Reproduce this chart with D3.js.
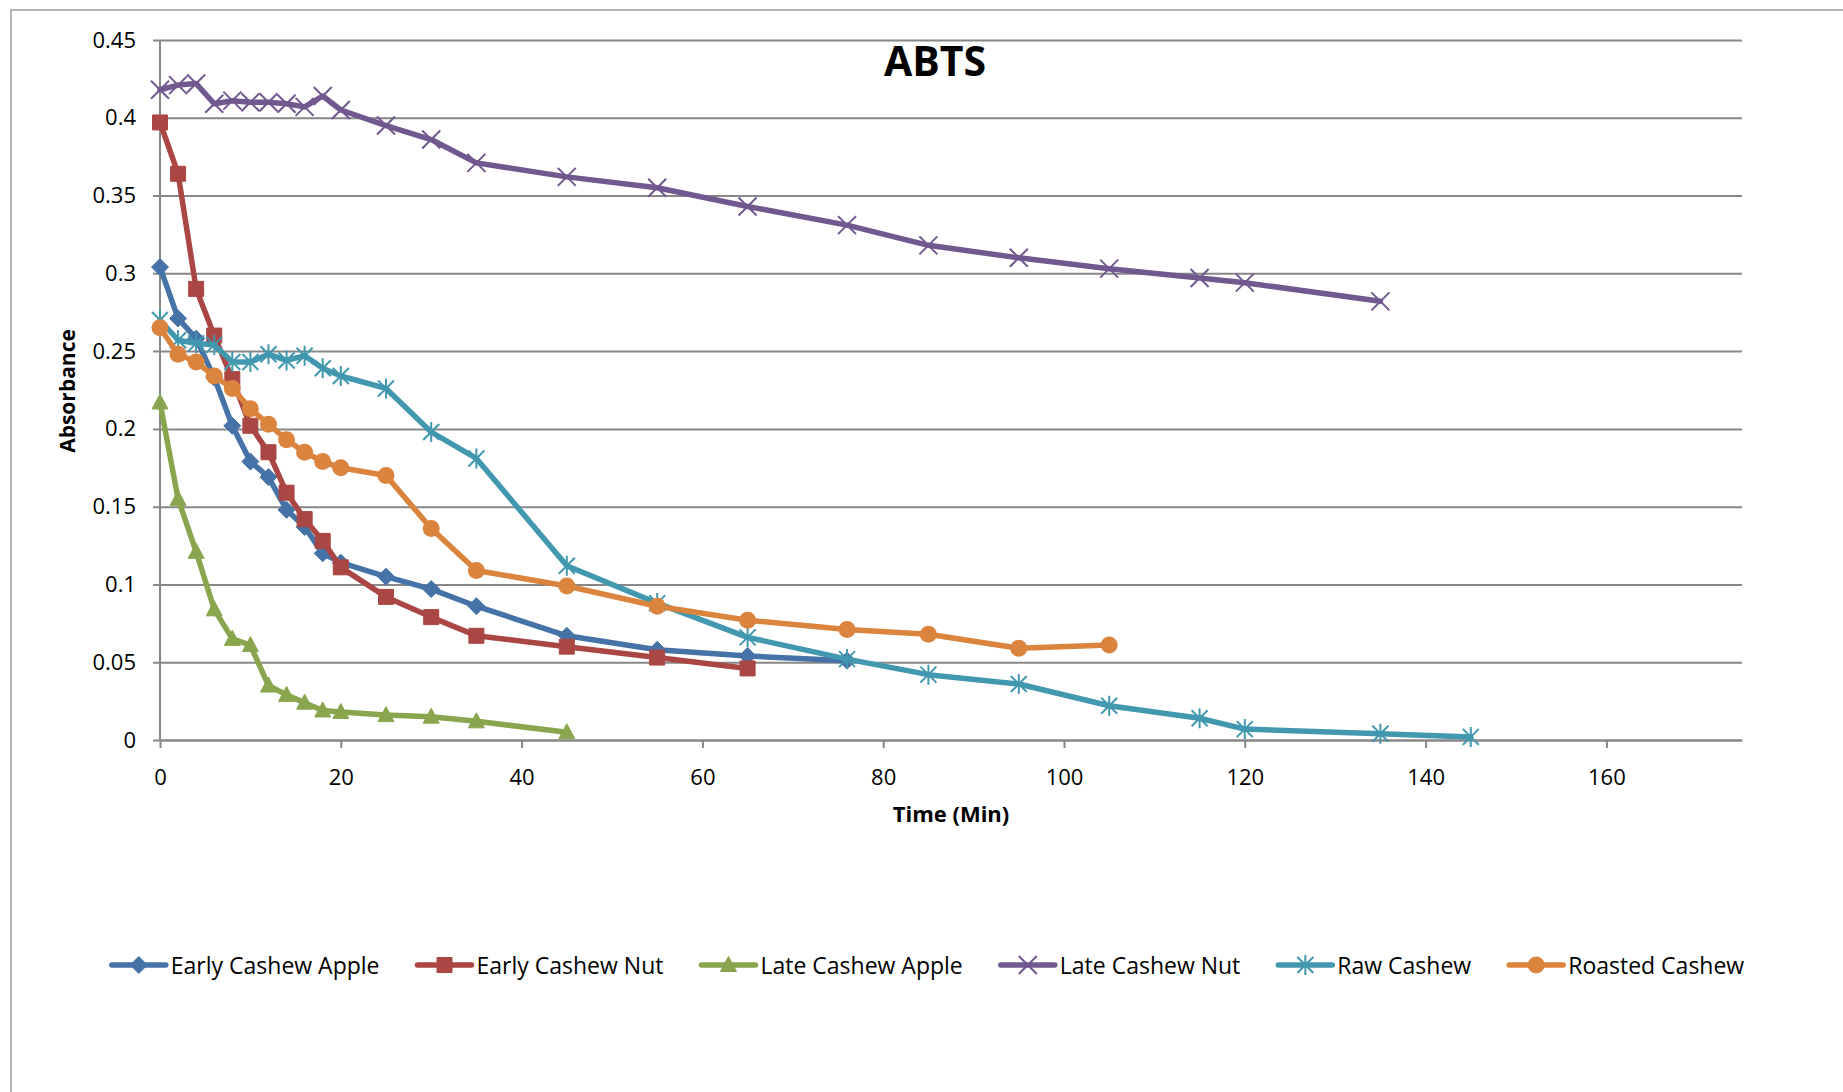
<!DOCTYPE html>
<html>
<head>
<meta charset="utf-8">
<script src="https://cdn.jsdelivr.net/npm/d3@7"></script>
<style>
  html, body { margin: 0; padding: 0; background: #ffffff; }
  svg { display: block; font-family: "Open Sans", sans-serif; }
</style>
</head>
<body>
<svg id="chart" width="1843" height="1092"></svg>
<script>
// ---------------- data ----------------
const times = [0, 2, 4, 6, 8, 10, 12, 14, 16, 18, 20, 25, 30, 35, 45, 55, 65, 76, 85, 95, 105, 115, 120, 135, 145];

const seriesNames = ["Early Cashew Apple", "Early Cashew Nut", "Late Cashew Apple", "Late Cashew Nut", "Raw Cashew", "Roasted Cashew"];

const earlyCashewApple = [0.304, 0.271, 0.258, 0.233, 0.202, 0.179, 0.169, 0.148, 0.137, 0.120, 0.114, 0.105, 0.097, 0.086, 0.067, 0.058, 0.054, 0.051];
const earlyCashewNut   = [0.397, 0.364, 0.290, 0.260, 0.232, 0.202, 0.185, 0.159, 0.142, 0.128, 0.111, 0.092, 0.079, 0.067, 0.060, 0.053, 0.046];
const lateCashewApple  = [0.217, 0.155, 0.121, 0.084, 0.065, 0.061, 0.035, 0.029, 0.024, 0.019, 0.018, 0.016, 0.015, 0.012, 0.005];
const lateCashewNut    = [0.418, 0.421, 0.422, 0.409, 0.411, 0.410, 0.410, 0.409, 0.407, 0.414, 0.405, 0.395, 0.386, 0.371, 0.362, 0.355, 0.343, 0.331, 0.318, 0.310, 0.303, 0.297, 0.294, 0.282];
const rawCashew        = [0.270, 0.257, 0.255, 0.254, 0.243, 0.243, 0.248, 0.244, 0.247, 0.239, 0.234, 0.226, 0.198, 0.181, 0.112, 0.088, 0.066, 0.052, 0.042, 0.036, 0.022, 0.014, 0.007, 0.004, 0.002];
const roastedCashew    = [0.265, 0.248, 0.243, 0.234, 0.226, 0.213, 0.203, 0.193, 0.185, 0.179, 0.175, 0.170, 0.136, 0.109, 0.099, 0.086, 0.077, 0.071, 0.068, 0.059, 0.061];

const xTickValues = [0, 20, 40, 60, 80, 100, 120, 140, 160];
const yTickValues = [0, 0.05, 0.1, 0.15, 0.2, 0.25, 0.3, 0.35, 0.4, 0.45];
const yTickLabels = ["0", "0.05", "0.1", "0.15", "0.2", "0.25", "0.3", "0.35", "0.4", "0.45"];

const chartTitle = "ABTS";
const xTitle = "Time (Min)";
const yTitle = "Absorbance";

// ---------------- styling ----------------
const colors = ["#4572A7", "#AA4643", "#89A54E", "#71588F", "#4198AF", "#DB843D"];
const markerTypes = ["diamond", "square", "triangle", "x", "asterisk", "circle"];
const gridColor = "#878787";

const seriesValues = [earlyCashewApple, earlyCashewNut, lateCashewApple, lateCashewNut, rawCashew, roastedCashew];
const series = seriesNames.map((name, i) => ({
  name, color: colors[i], marker: markerTypes[i],
  points: seriesValues[i].map((v, j) => ({ t: times[j], v }))
}));

// ---------------- layout ----------------
const svg = d3.select("#chart");
const plot = { left: 160, right: 1742, top: 40, bottom: 740 };

const x = d3.scaleLinear().domain([0, 175]).range([plot.left, plot.right]);
const y = d3.scaleLinear().domain([0, 0.45]).range([plot.bottom, plot.top]);

// chart frame (extends beyond the visible page on right/bottom)
svg.append("rect")
  .attr("x", 11).attr("y", 10)
  .attr("width", 1900).attr("height", 1200)
  .attr("fill", "none").attr("stroke", "#8c8c8c").attr("stroke-width", 1.3);

// horizontal gridlines + y axis
const yAxis = d3.axisLeft(y).tickValues(yTickValues)
  .tickFormat((d, i) => yTickLabels[i])
  .tickSize(-(plot.right - plot.left)).tickSizeOuter(0).tickPadding(17);
const yg = svg.append("g").attr("transform", `translate(${plot.left},0)`).call(yAxis);
yg.select(".domain").remove();
yg.selectAll(".tick line").attr("stroke", gridColor).attr("stroke-width", 2).attr("x1", -7);
yg.selectAll(".tick text").attr("font-size", 22).attr("fill", "#000").attr("x", -24)
  .attr("font-family", "Open Sans");

// y axis line
svg.append("line").attr("x1", plot.left).attr("x2", plot.left)
  .attr("y1", plot.top).attr("y2", plot.bottom)
  .attr("stroke", gridColor).attr("stroke-width", 2);

// x axis
const xAxis = d3.axisBottom(x).tickValues(xTickValues).tickFormat(d3.format("d"))
  .tickSize(8).tickSizeOuter(0).tickPadding(21);
const xg = svg.append("g").attr("transform", `translate(0,${plot.bottom})`).call(xAxis);
xg.select(".domain").attr("stroke", gridColor).attr("stroke-width", 2);
xg.selectAll(".tick line").attr("stroke", gridColor).attr("stroke-width", 2);
xg.selectAll(".tick text").attr("font-size", 22).attr("fill", "#000")
  .attr("font-family", "Open Sans");

// marker shapes
function markerPath(type) {
  switch (type) {
    case "diamond": return "M0,-8.5L8.5,0L0,8.5L-8.5,0Z";
    case "square": return "M-7.5,-7.5H7.5V7.5H-7.5Z";
    case "triangle": return "M0,-8.5L8,6.5L-8,6.5Z";
    case "x": return "M-9,-9L9,9M-9,9L9,-9";
    case "asterisk": return "M-8,-8L8,8M-8,8L8,-8M0,-10L0,10";
    default: return null;
  }
}
function drawMarker(g, type, color) {
  if (type === "circle") {
    g.append("circle").attr("r", 8.5).attr("fill", color);
  } else if (type === "x" || type === "asterisk") {
    g.append("path").attr("d", markerPath(type)).attr("fill", "none")
      .attr("stroke", color).attr("stroke-width", 2);
  } else {
    g.append("path").attr("d", markerPath(type)).attr("fill", color)
      .attr("stroke", color).attr("stroke-width", 1);
  }
}

const line = d3.line().x(d => x(d.t)).y(d => y(d.v));

series.forEach(s => {
  const g = svg.append("g").attr("class", "series");
  g.append("path").datum(s.points).attr("d", line)
    .attr("fill", "none").attr("stroke", s.color).attr("stroke-width", 5.5)
    .attr("stroke-linejoin", "round").attr("stroke-linecap", "round");
  s.points.forEach(p => {
    const mg = g.append("g").attr("transform", `translate(${x(p.t)},${y(p.v)})`);
    drawMarker(mg, s.marker, s.color);
  });
});

// titles
svg.append("text").text(chartTitle)
  .attr("x", 935).attr("y", 76).attr("text-anchor", "middle")
  .attr("font-size", 41).attr("font-weight", "bold").attr("fill", "#000");

svg.append("text").text(xTitle)
  .attr("x", 951).attr("y", 822).attr("text-anchor", "middle")
  .attr("font-size", 22).attr("font-weight", "bold").attr("fill", "#000");

svg.append("text").text(yTitle)
  .attr("transform", "translate(75,391) rotate(-90)").attr("text-anchor", "middle")
  .attr("font-size", 21).attr("font-weight", "bold").attr("fill", "#000");

// legend
const legend = svg.append("g");
let cursor = 0;
const lineLen = 54, textGap = 5, itemGap = 38;
series.forEach(s => {
  const g = legend.append("g").attr("transform", `translate(${cursor},0)`);
  g.append("line").attr("x1", 0).attr("x2", lineLen).attr("y1", 0).attr("y2", 0)
    .attr("stroke", s.color).attr("stroke-width", 5.5).attr("stroke-linecap", "round");
  const mg = g.append("g").attr("transform", `translate(${lineLen / 2},0)`);
  drawMarker(mg, s.marker, s.color);
  const t = g.append("text").text(s.name).attr("x", lineLen + textGap).attr("y", 8.5)
    .attr("font-size", 23).attr("fill", "#000");
  cursor += lineLen + textGap + t.node().getComputedTextLength() + itemGap;
});
const legendWidth = cursor - itemGap;
legend.attr("transform", `translate(${928 - legendWidth / 2},965)`);
</script>
</body>
</html>
